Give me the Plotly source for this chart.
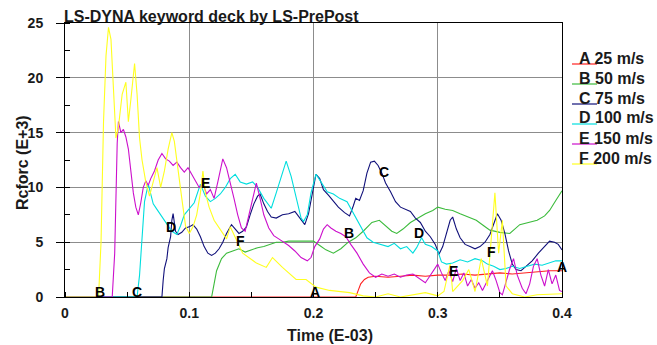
import plotly.graph_objects as go

# ---------------- data ----------------
a_t = [0, 0.234, 0.236, 0.238, 0.241, 0.244, 0.25, 0.26, 0.27, 0.28, 0.29, 0.3, 0.31, 0.32,
       0.33, 0.34, 0.35, 0.36, 0.37, 0.38, 0.39, 0.4]
a_v = [0, 0, 0.6, 1.2, 1.6, 1.8, 1.9, 1.8, 1.9, 2.0, 1.9, 2.0, 2.0, 2.1,
       2.0, 2.1, 2.2, 2.1, 2.2, 2.3, 2.4, 2.4]

b_t = [0, 0.118, 0.12, 0.122, 0.126, 0.13, 0.135, 0.14, 0.145, 0.15, 0.155, 0.16, 0.165, 0.17,
       0.175, 0.18, 0.185, 0.19, 0.195, 0.2, 0.205, 0.21, 0.216, 0.222, 0.228, 0.234, 0.24,
       0.247, 0.253, 0.258, 0.263, 0.267, 0.272, 0.278, 0.284, 0.29, 0.296, 0.3, 0.306, 0.312,
       0.318, 0.325, 0.331, 0.337, 0.342, 0.35, 0.358, 0.366, 0.372, 0.38, 0.386, 0.39, 0.395, 0.4]
b_v = [0, 0, 1.2, 2.4, 3.5, 4.0, 4.2, 4.4, 4.1, 4.3, 4.5, 4.6, 4.8, 5.0,
       5.0, 5.1, 5.1, 5.1, 5.1, 5.1, 4.7, 4.3, 4.0, 4.4, 5.0, 5.4, 6.0,
       6.8, 7.0, 6.5, 6.0, 5.8, 6.2, 6.8, 7.2, 7.6, 7.9, 8.2, 8.0, 7.9,
       7.6, 7.3, 7.0, 6.5, 6.1, 5.9, 5.8, 6.6, 6.8, 7.0, 7.4, 7.9, 8.8, 9.7]

c_t = [0, 0.078, 0.079, 0.080, 0.082, 0.083, 0.085, 0.086, 0.087, 0.088, 0.089, 0.091, 0.094,
       0.097, 0.100, 0.103, 0.106, 0.109, 0.112, 0.115, 0.118, 0.121, 0.124, 0.127, 0.130,
       0.134, 0.137, 0.140, 0.143, 0.146, 0.149, 0.152, 0.155, 0.157, 0.160, 0.163, 0.166,
       0.170, 0.175, 0.180, 0.185, 0.190, 0.193, 0.196, 0.199, 0.202, 0.205, 0.208, 0.212,
       0.216, 0.220, 0.225, 0.229, 0.232, 0.234, 0.237, 0.240, 0.243, 0.246, 0.249, 0.252,
       0.255, 0.258, 0.262, 0.266, 0.270, 0.274, 0.278, 0.282, 0.286, 0.290, 0.294, 0.298,
       0.301, 0.304, 0.307, 0.310, 0.312, 0.315, 0.318, 0.322, 0.326, 0.330, 0.334, 0.338,
       0.342, 0.345, 0.348, 0.351, 0.354, 0.357, 0.360, 0.363, 0.367, 0.371, 0.376, 0.381,
       0.386, 0.390, 0.394, 0.397, 0.400]
c_v = [0, 0, 1.5, 2.6, 3.5, 4.5, 5.5, 7.0, 7.6, 6.5, 6.0, 5.7, 5.9,
       6.3, 6.4, 6.6, 6.2, 5.5, 4.6, 4.0, 3.8, 4.0, 4.4, 5.0, 5.8,
       6.6, 6.2, 5.8, 6.0, 6.4, 7.5, 8.5, 9.2, 9.4, 8.5, 7.8, 7.3,
       7.2, 7.5, 7.6, 7.8, 7.0, 6.6, 7.6, 9.5, 11.2, 10.8, 9.8, 9.3,
       8.7, 8.2, 7.7, 7.4, 8.3, 9.0, 8.8, 9.7, 11.3, 12.3, 12.4, 12.0,
       11.3, 10.4, 9.6, 8.7, 8.2, 8.0, 7.8, 7.2, 6.8, 6.0, 5.5, 4.8,
       3.9, 4.6, 5.8, 7.0, 7.3, 6.2, 5.4, 4.8, 4.6, 4.4, 4.6, 5.0,
       5.7, 6.6, 7.6, 7.0, 5.8, 4.2, 3.0, 2.5, 2.4, 2.8, 3.3, 4.0,
       4.6, 5.1, 5.0, 4.8, 4.3]

d_t = [0, 0.058, 0.060, 0.062, 0.064, 0.067, 0.069, 0.071, 0.074, 0.077, 0.080, 0.083, 0.086,
       0.090, 0.093, 0.096, 0.100, 0.104, 0.109, 0.113, 0.117, 0.121, 0.125, 0.129, 0.133,
       0.137, 0.141, 0.146, 0.151, 0.155, 0.160, 0.166, 0.170, 0.174, 0.178, 0.182, 0.186,
       0.190, 0.192, 0.195, 0.198, 0.202, 0.206, 0.211, 0.216, 0.221, 0.227, 0.233, 0.238,
       0.243, 0.248, 0.254, 0.260, 0.265, 0.270, 0.275, 0.280, 0.283, 0.287, 0.290, 0.295,
       0.300, 0.303, 0.307, 0.312, 0.318, 0.324, 0.330, 0.336, 0.340, 0.345, 0.350, 0.355,
       0.360, 0.366, 0.372, 0.378, 0.384, 0.390, 0.395, 0.400]
d_v = [0, 0, 2.0, 5.0, 8.7, 10.3, 9.5, 8.5, 8.0, 7.5, 7.0, 6.6, 6.0,
       5.7, 6.5, 7.5, 8.0, 8.6, 10.3, 9.2, 8.7, 9.0, 9.4, 10.0, 10.8,
       11.2, 10.5, 10.3, 10.5, 10.0, 9.0, 8.1, 9.5, 11.0, 12.4, 11.0, 9.0,
       7.2, 6.9, 7.5, 9.5, 11.2, 10.5, 9.6, 9.4, 9.0, 8.7, 7.5, 6.5,
       5.4, 5.0, 4.8, 4.6, 4.9, 4.4, 4.6, 4.0, 4.5, 5.4, 4.8, 4.6,
       4.2, 3.2, 3.0, 3.1, 3.4, 3.2, 3.5, 3.3, 3.0, 2.8, 2.5, 2.6,
       2.8, 2.6, 2.8, 3.0, 2.9, 3.1, 3.3, 3.3]

e_t = [0, 0.038, 0.040, 0.041, 0.042, 0.043, 0.045, 0.047, 0.049, 0.051, 0.053, 0.055, 0.057,
       0.059, 0.061, 0.063, 0.065, 0.067, 0.069, 0.072, 0.075, 0.078, 0.081, 0.084, 0.087,
       0.090, 0.093, 0.096, 0.099, 0.102, 0.105, 0.108, 0.111, 0.114, 0.117, 0.120, 0.123,
       0.127, 0.130, 0.133, 0.136, 0.139, 0.142, 0.145, 0.148, 0.151, 0.154, 0.157, 0.160,
       0.164, 0.168, 0.172, 0.176, 0.180, 0.185, 0.190, 0.195, 0.198, 0.201, 0.205, 0.208,
       0.211, 0.214, 0.218, 0.222, 0.226, 0.230, 0.235, 0.240, 0.245, 0.250, 0.255, 0.260,
       0.265, 0.270, 0.275, 0.280, 0.285, 0.290, 0.293, 0.297, 0.300, 0.303, 0.306, 0.309,
       0.312, 0.315, 0.318, 0.321, 0.324, 0.327, 0.330, 0.333, 0.336, 0.340, 0.344, 0.347,
       0.350, 0.352, 0.355, 0.358, 0.361, 0.364, 0.368, 0.371, 0.374, 0.377, 0.380, 0.383,
       0.386, 0.389, 0.392, 0.395, 0.398, 0.400]
e_v = [0, 0, 4.0, 10.0, 14.0, 16.0, 15.0, 15.3, 14.6, 13.5, 11.5, 9.5, 8.2,
       7.5, 8.6, 10.0, 10.6, 10.2, 10.8, 11.5, 12.5, 13.1, 12.6, 12.4, 12.0,
       12.3, 11.8, 11.4, 11.8, 11.2, 10.6, 10.0, 10.3, 9.4, 9.8, 9.0, 10.5,
       12.6, 11.8, 10.5, 9.0, 7.5, 6.3, 6.0, 7.5, 9.0, 10.4, 9.0, 7.5,
       6.3, 5.6, 5.3, 5.0, 4.7, 4.2, 3.6, 3.3, 3.6, 4.6, 5.3, 6.2,
       6.6, 6.3, 6.0, 5.8, 5.5, 4.8, 4.0, 3.0, 2.2, 1.8, 2.1, 1.9,
       2.1, 1.8, 2.0, 2.1, 1.7, 1.3, 1.8, 2.5, 3.0, 2.2, 1.5, 2.4,
       1.4, 2.6, 1.5, 2.2, 1.0, 1.6, 0.8, 1.3, 0.6, 1.5, 2.4, 1.5,
       0.4, 0.2, 1.5, 2.6, 3.5, 2.0, 0.8, 0.3, 1.2, 2.8, 3.5, 2.0,
       1.0, 2.5, 1.2, 2.0, 0.6, 0.5]

f_t = [0, 0.027, 0.029, 0.031, 0.033, 0.035, 0.037, 0.039, 0.041, 0.043, 0.046, 0.049, 0.051,
       0.053, 0.056, 0.058, 0.060, 0.062, 0.065, 0.068, 0.071, 0.074, 0.077, 0.080, 0.083,
       0.086, 0.088, 0.091, 0.094, 0.097, 0.100, 0.103, 0.106, 0.109, 0.111, 0.113, 0.116,
       0.120, 0.125, 0.130, 0.133, 0.138, 0.143, 0.154, 0.162, 0.167, 0.175, 0.186, 0.194,
       0.202, 0.213, 0.229, 0.240, 0.250, 0.260, 0.270, 0.290, 0.300, 0.305, 0.310, 0.312,
       0.320, 0.325, 0.330, 0.335, 0.340, 0.343, 0.346, 0.349, 0.352, 0.355, 0.360, 0.370,
       0.380, 0.400]
f_v = [0, 0, 5.0, 16.0, 22.0, 24.6, 23.5, 19.0, 14.5, 15.5, 18.5, 19.6, 16.0,
       18.0, 21.3, 18.5, 14.5, 12.5, 10.5, 9.2, 10.5, 11.8, 10.0, 11.5, 13.5,
       15.0, 14.2, 11.8, 9.0, 6.5, 5.8, 6.4, 7.5, 9.5, 11.5, 9.5, 8.2,
       7.0, 6.2, 5.3, 6.4, 5.2, 4.0, 3.1, 2.7, 3.6, 2.7, 1.6, 1.6,
       0.9, 0.6, 0.4, 0.1, 0.0, 0.3, 0.0, 0.4, 0.1, 0.5, 3.0, 0.5,
       1.5, 2.5, 0.5, 3.5, 1.0, 5.0, 9.5, 4.0, 7.0, 1.0, 0.3, 0.0,
       0.2, 0.3]

series_ids = ["A", "B", "C", "D", "E", "F"]
series_names = ["25 m/s", "50 m/s", "75 m/s", "100 m/s", "150 m/s", "200 m/s"]
series_colors = ["#ff2020", "#3cbb3c", "#10107a", "#00dede", "#cc10cc", "#ffff20"]
series_t = [a_t, b_t, c_t, d_t, e_t, f_t]
series_v = [a_v, b_v, c_v, d_v, e_v, f_v]

# curve label letters
label_text = ["B", "C", "D", "E", "F", "A", "B", "C", "D", "E", "F", "A"]
label_x = [0.0278, 0.0583, 0.085, 0.113, 0.141, 0.201, 0.2285, 0.257, 0.285, 0.313, 0.343, 0.4]
label_y = [0.45, 0.45, 6.4, 10.4, 5.1, 0.45, 5.8, 11.4, 5.8, 2.4, 4.1, 2.7]

x_ticks = [0, 0.1, 0.2, 0.3, 0.4]
x_ticktext = ["0", "0.1", "0.2", "0.3", "0.4"]
y_ticks = [0, 5, 10, 15, 20, 25]

# ---------------- layout geometry ----------------
W, H = 657, 345
L, R, T, B = 65, 95, 23, 48
PW, PH = W - L - R, H - T - B


def px(xpix):
    return (xpix - L) / PW


def py(ypix):
    return (H - B - ypix) / PH


FONT = "Liberation Sans, Arial, sans-serif"
TXT = "#1a1a1a"

fig = go.Figure()
for sid, name, col, t, v in zip(series_ids, series_names, series_colors, series_t, series_v):
    fig.add_trace(go.Scatter(x=t, y=v, mode="lines", name=f"{sid} {name}",
                             line=dict(color=col, width=1.1), showlegend=False))

annotations = []
shapes = []
for txt, lx, ly in zip(label_text, label_x, label_y):
    annotations.append(dict(x=lx, y=ly, xref="x", yref="y", text=f"<b>{txt}</b>",
                            showarrow=False, font=dict(family=FONT, size=14, color="black"),
                            xanchor="center", yanchor="middle"))

# legend (right side)
for i, (sid, name, col) in enumerate(zip(series_ids, series_names, series_colors)):
    cy = 58 + 20 * i
    annotations.append(dict(x=px(577), y=py(cy), xref="paper", yref="paper",
                            text=f"<b>{sid} {name}</b>", showarrow=False,
                            font=dict(family=FONT, size=16, color=TXT),
                            xanchor="left", yanchor="middle"))
    shapes.append(dict(type="line", xref="paper", yref="paper",
                       x0=px(572), x1=px(597), y0=py(cy + 6), y1=py(cy + 6),
                       line=dict(color=col, width=1.2)))

# title
annotations.append(dict(x=px(62), y=py(23), xref="paper", yref="paper",
                        text="<b>LS-DYNA keyword deck by LS-PrePost</b>", showarrow=False,
                        font=dict(family=FONT, size=16, color=TXT),
                        xanchor="left", yanchor="bottom", yshift=-4))
# axis titles
annotations.append(dict(x=px(330), y=py(335), xref="paper", yref="paper",
                        text="<b>Time (E-03)</b>", showarrow=False,
                        font=dict(family=FONT, size=16, color=TXT),
                        xanchor="center", yanchor="middle"))
annotations.append(dict(x=px(22), y=py(163), xref="paper", yref="paper",
                        text="<b>Rcforc (E+3)</b>", showarrow=False, textangle=-90,
                        font=dict(family=FONT, size=16, color=TXT),
                        xanchor="center", yanchor="middle"))

fig.update_layout(
    width=W, height=H,
    margin=dict(l=L, r=R, t=T, b=B, pad=0),
    paper_bgcolor="white", plot_bgcolor="white",
    showlegend=False,
    annotations=annotations, shapes=shapes,
    xaxis=dict(range=[0, 0.4], tickvals=x_ticks, ticktext=x_ticktext,
               showgrid=True, gridcolor="#8c8c8c", gridwidth=1,
               showline=True, linecolor="black", linewidth=1, mirror=True,
               ticks="", zeroline=False, ticklabelstandoff=3,
               tickfont=dict(family=FONT, size=14, color=TXT, weight="bold"),
               minor=dict(dtick=0.05, ticks="inside", ticklen=5, tickcolor="black", showgrid=False)),
    yaxis=dict(range=[0, 25], tickvals=y_ticks,
               showgrid=True, gridcolor="#8c8c8c", gridwidth=1,
               showline=True, linecolor="black", linewidth=1, mirror=True,
               ticks="outside", ticklen=8, tickcolor="black", zeroline=False,
               ticklabelstandoff=10,
               tickfont=dict(family=FONT, size=14, color=TXT, weight="bold"),
               minor=dict(dtick=2.5, ticks="inside", ticklen=5, tickcolor="black", showgrid=False)),
)

fig.write_html("out.html")
